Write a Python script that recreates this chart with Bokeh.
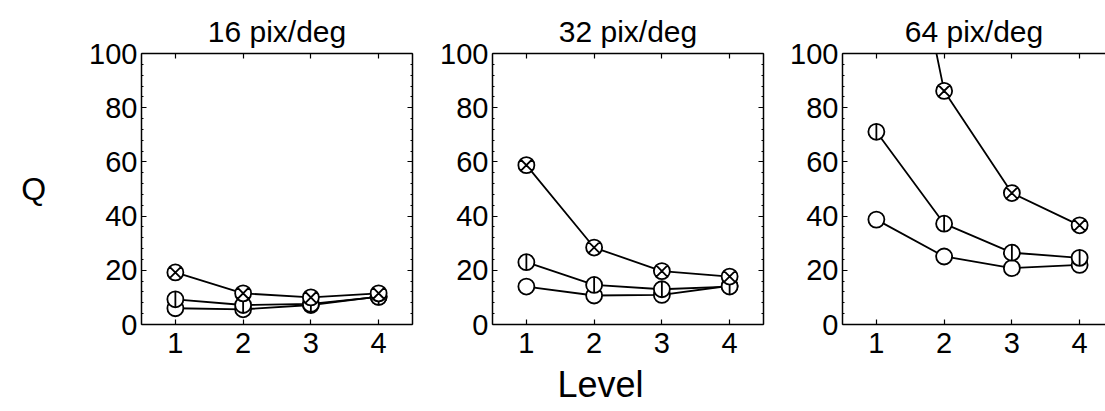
import numpy as np
from bokeh.plotting import figure
from bokeh.layouts import row
from bokeh.models import (Range1d, LinearAxis, SingleIntervalTicker, FixedTicker,
                          Title, CustomJSTickFormatter)
from bokeh.embed import file_html
from bokeh.resources import INLINE

levels = [1, 2, 3, 4]
titles = ["16 pix/deg", "32 pix/deg", "64 pix/deg"]

# series per panel: crossed circle, barred circle, open circle
crossed_16 = [19.2, 11.5, 10.0, 11.5]
barred_16 = [9.3, 7.2, 7.6, 10.2]
open_16 = [6.0, 5.6, 7.2, 10.3]

crossed_32 = [58.8, 28.4, 19.7, 17.7]
barred_32 = [23.0, 14.6, 13.0, 14.0]
open_32 = [14.0, 10.7, 10.9, 14.3]

crossed_64 = [208.0, 86.2, 48.5, 36.6]
barred_64 = [71.1, 37.2, 26.5, 24.6]
open_64 = [38.7, 25.1, 20.8, 22.0]

panels = [
    (crossed_16, barred_16, open_16),
    (crossed_32, barred_32, open_32),
    (crossed_64, barred_64, open_64),
]

FONT = "Liberation Sans"
TICK_FS = "29px"
LW = 1.8
MS = 16

geo = [
    dict(left=141, frame=271, right=20, xend=4.5, right_axis=True, toff=0),
    dict(left=60, frame=271, right=19, xend=4.5, right_axis=True, toff=0),
    dict(left=60, frame=263, right=0, xend=0.5 + 263 / 67.75, right_axis=False, toff=6),
]
TOP, FRAME_H, BOTTOM = 53, 271, 87

blank = CustomJSTickFormatter(code="return ''")


def style_axis(ax, labels=True):
    ax.axis_line_color = "black"
    ax.axis_line_width = 1.5
    ax.major_tick_line_color = "black"
    ax.major_tick_line_width = 1.2
    ax.major_tick_in = 5
    ax.major_tick_out = 0
    ax.minor_tick_line_color = "black"
    ax.minor_tick_in = 2
    ax.minor_tick_out = 0
    ax.major_label_text_font = FONT
    ax.major_label_text_color = "black"
    ax.major_label_text_font_size = TICK_FS
    if not labels:
        ax.formatter = blank
        ax.major_label_standoff = 0
        ax.major_label_text_font_size = "1px"


figs = []
for i, (series, g) in enumerate(zip(panels, geo)):
    w = g["left"] + g["frame"] + g["right"]
    h = TOP + FRAME_H + BOTTOM
    p = figure(width=w, height=h, output_backend="svg", toolbar_location=None,
               x_range=Range1d(0.5, g["xend"]), y_range=Range1d(0, 100),
               x_axis_location=None, y_axis_location=None,
               min_border_left=g["left"], min_border_right=g["right"],
               min_border_top=TOP, min_border_bottom=BOTTOM)
    p.outline_line_color = None
    p.xgrid.visible = False
    p.ygrid.visible = False

    p.title.text = titles[i]
    p.title.align = "center"
    p.title.offset = g["toff"]
    p.title.text_font = FONT
    p.title.text_font_size = "30px"
    p.title.text_font_style = "normal"
    p.title.text_color = "black"
    p.title.standoff = 12

    yl = LinearAxis(ticker=SingleIntervalTicker(interval=20, num_minor_ticks=5))
    style_axis(yl)
    yl.major_label_standoff = 4
    p.add_layout(yl, "left")
    if i == 0:
        yl.axis_label = "Q"
        yl.axis_label_orientation = "horizontal"
        yl.axis_label_text_font = FONT
        yl.axis_label_text_font_style = "normal"
        yl.axis_label_text_font_size = "32px"
        yl.axis_label_text_color = "black"
        yl.axis_label_standoff = 40

    xb = LinearAxis(ticker=FixedTicker(ticks=levels))
    style_axis(xb)
    xb.major_label_standoff = 8
    p.add_layout(xb, "below")

    xa = LinearAxis(ticker=FixedTicker(ticks=levels))
    style_axis(xa, labels=False)
    p.add_layout(xa, "above")

    if g["right_axis"]:
        yr = LinearAxis(ticker=SingleIntervalTicker(interval=20, num_minor_ticks=5))
        style_axis(yr, labels=False)
        p.add_layout(yr, "right")

    crossed, barred, opn = series
    for s in (opn, barred, crossed):
        p.line(levels, s, line_color="black", line_width=LW)
    p.scatter(levels, opn, marker="circle", size=MS, fill_color="white",
              line_color="black", line_width=LW)
    p.scatter(levels, barred, marker="circle", size=MS, fill_color="white",
              line_color="black", line_width=LW)
    p.scatter(levels, barred, marker="dash", size=MS, angle=np.pi / 2,
              line_color="black", line_width=LW)
    p.scatter(levels, crossed, marker="circle_x", size=MS, fill_color="white",
              line_color="black", line_width=LW)
    figs.append(p)

lvl = Title(text="Level", align="left", offset=65, text_font=FONT,
            text_font_size="36px", text_font_style="normal", text_color="black",
            standoff=13)
figs[1].add_layout(lvl, "below")

layout = row(*figs, spacing=0)
open("out.html", "w").write(file_html(layout, INLINE))
